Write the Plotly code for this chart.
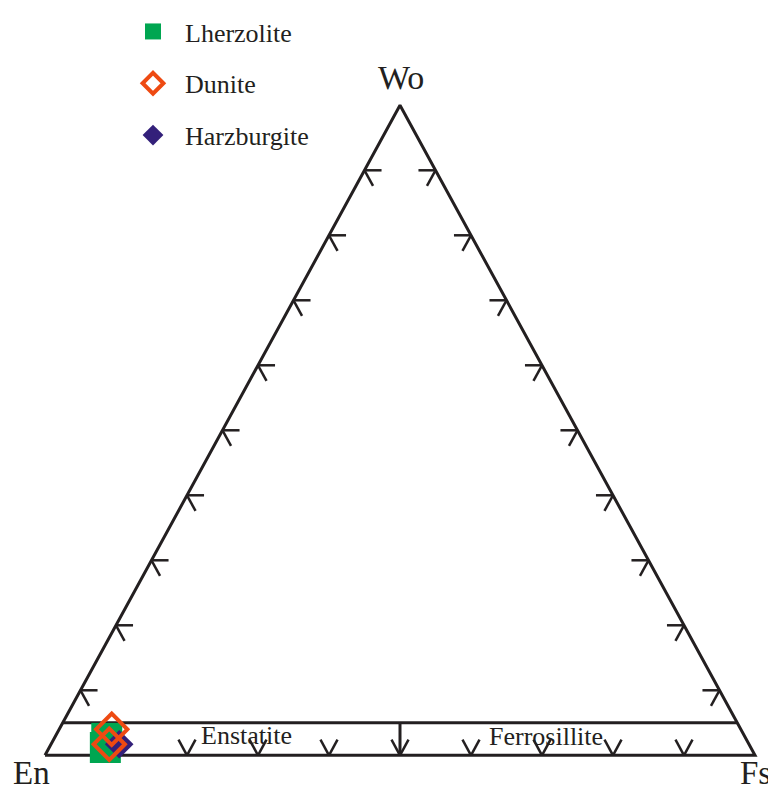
import plotly.graph_objects as go

# Pyroxene compositions (mol %)
lherz_wo = [1.2, 2.6]
lherz_en = [90.9, 90.0]
lherz_fs = [7.9, 7.4]

dunite_wo = [1.7, 4.0]
dunite_en = [90.1, 88.6]
dunite_fs = [8.2, 7.4]

harz_wo = [1.7]
harz_en = [88.7]
harz_fs = [9.6]

# triangle frame, ticks and field boundaries (ternary values)
corner_wo = [0, 0, 100, 0]
corner_fs = [0, 100, 0, 0]
tick_values = [10, 20, 30, 40, 50, 60, 70, 80, 90]
field_wo = 5       # Enstatite / Ferrosillite boundary at Wo = 5
split_fs = 50      # En = Fs divide
arm = 2.4          # tick arm length in ternary units

INK = "#231F20"
SERIF = "Liberation Serif"


def to_xy(wo, fs):
    """ternary (Wo, Fs) -> cartesian (x, y); En is the remainder."""
    return [f + w / 2 for w, f in zip(wo, fs)], list(wo)


def segments(pairs):
    """list of ((wo0, fs0), (wo1, fs1)) -> x, y with None breaks"""
    xs, ys = [], []
    for (w0, f0), (w1, f1) in pairs:
        x, y = to_xy([w0, w1], [f0, f1])
        xs += x + [None]
        ys += y + [None]
    return xs, ys


fig = go.Figure()

# frame
fx, fy = to_xy(corner_wo, corner_fs)
fig.add_trace(go.Scatter(x=fx, y=fy, mode="lines", line=dict(color=INK, width=3),
                         showlegend=False, hoverinfo="skip"))

# arrow-like ticks on the three sides
tick_pairs = []
for t in tick_values:
    # left side (Fs = 0, Wo = t)
    tick_pairs.append(((t, 0), (t, arm)))
    tick_pairs.append(((t, 0), (t - arm, arm)))
    # right side (En = 0, Wo = t)
    tick_pairs.append(((t, 100 - t), (t, 100 - t - arm)))
    tick_pairs.append(((t, 100 - t), (t - arm, 100 - t)))
    # base (Wo = 0, Fs = t)
    tick_pairs.append(((0, t), (arm, t)))
    tick_pairs.append(((0, t), (arm, t - arm)))
tx, ty = segments(tick_pairs)
fig.add_trace(go.Scatter(x=tx, y=ty, mode="lines", line=dict(color=INK, width=2.5),
                         showlegend=False, hoverinfo="skip"))

# field boundaries
bx, by = segments([((field_wo, 0), (field_wo, 100 - field_wo)),
                   ((field_wo, split_fs - field_wo / 2), (0, split_fs))])
fig.add_trace(go.Scatter(x=bx, y=by, mode="lines", line=dict(color=INK, width=3),
                         showlegend=False, hoverinfo="skip"))

# samples (draw order: green, purple, orange on top)
lx, ly = to_xy(lherz_wo, lherz_fs)
fig.add_trace(go.Scatter(x=lx, y=ly, mode="markers", name="Lherzolite", legendrank=1,
                         legendgroup="a", cliponaxis=False,
                         marker=dict(symbol="square", size=31, color="#00A651")))
hx, hy = to_xy(harz_wo, harz_fs)
fig.add_trace(go.Scatter(x=hx, y=hy, mode="markers", name="Harzburgite", legendrank=3,
                         legendgroup="c", cliponaxis=False,
                         marker=dict(symbol="diamond", size=22, color="#33207A")))
dx, dy = to_xy(dunite_wo, dunite_fs)
fig.add_trace(go.Scatter(x=dx, y=dy, mode="markers", name="Dunite", legendrank=2,
                         legendgroup="b", cliponaxis=False,
                         marker=dict(symbol="diamond-open", size=24, color="#EE4A12",
                                     line=dict(width=4, color="#EE4A12"))))

labels = [
    ("Wo", 50.1, 104.3, 34),
    ("En", -1.9, -2.7, 33),
    ("Fs", 100.0, -2.7, 33),
    ("Enstatite", 28.4, 3.0, 26),
    ("Ferrosillite", 70.5, 2.9, 26),
]
for text, x, y, size in labels:
    fig.add_annotation(x=x, y=y, text=text, showarrow=False, xref="x", yref="y",
                       font=dict(family=SERIF, size=size, color=INK))

# the page puts the plot 8px in from the top-left corner
fig.update_xaxes(range=[-5.211, 102.958], visible=False, fixedrange=True)
fig.update_yaxes(range=[-5.802, 114.046], visible=False, fixedrange=True)

fig.update_layout(
    width=768, height=785,
    margin=dict(l=0, r=0, t=0, b=0),
    plot_bgcolor="white", paper_bgcolor="white",
    legend=dict(x=113 / 768, y=1 + 6 / 785, xanchor="left", yanchor="top",
                font=dict(family=SERIF, size=26, color=INK),
                bgcolor="rgba(0,0,0,0)", tracegroupgap=15, itemwidth=54),
)

fig.write_html("out.html")
